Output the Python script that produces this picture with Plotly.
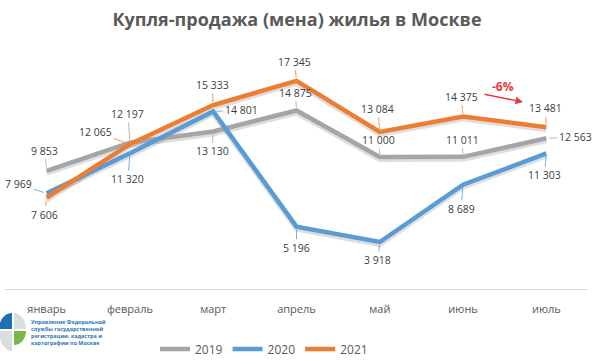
import plotly.graph_objects as go

# ---------------- data ----------------
months = ["январь", "февраль", "март", "апрель", "май", "июнь", "июль"]
series_names = ["2019", "2020", "2021"]
y2019 = [9853, 12197, 13130, 14875, 11000, 11011, 12563]
y2020 = [7969, 11320, 14801, 5196, 3918, 8689, 11303]
y2021 = [7606, 12065, 15333, 17345, 13084, 14375, 13481]
change_label = "-6%"
title_text = "Купля-продажа (мена) жилья в Москве"
logo_lines = ["Управление Федеральной", "службы государственной",
              "регистрации, кадастра и", "картографии по Москве"]

# ---------------- styles / positions ----------------
colors = ["#A5A5A5", "#5B9BD5", "#ED7D31"]
label_offsets = [
    [(-2, -20), (-2, -29), (-1, 20), (-1, -18), (-1, -17), (-1, -17), (29, -1)],
    [(-28, -9), (-2, 26), (28, -1), (0, 21), (-2, 18), (-2, 24), (-2, 22)],
    [(-2, 17), (-34, -12), (-1, -20), (-2, -19), (-2, -23), (-2, -20), (-1, -19)],
]
W, H = 594, 362
ML, MR, MT, MB = 5, 6, 49, 73
PW, PH = W - ML - MR, H - MT - MB
YMAX = 20000
shadow_shift = 2.5 * YMAX / PH

FONT = "Open Sans"


def paper(px, py):
    return ((px - ML) / PW, (H - MB - py) / PH)


def quarter(cx, cy, rx, ry, sx, sy, gap):
    k = 0.5523
    ox, oy = cx + sx * gap, cy + sy * gap
    pts = [(ox, oy), (ox + sx * rx, oy),
           (ox + sx * rx, oy + sy * ry * k), (ox + sx * rx * k, oy + sy * ry),
           (ox, oy + sy * ry)]
    p = [paper(*q) for q in pts]
    return ("M {0[0]},{0[1]} L {1[0]},{1[1]} C {2[0]},{2[1]} {3[0]},{3[1]} "
            "{4[0]},{4[1]} Z").format(*p)


fig = go.Figure()
all_series = [y2019, y2020, y2021]

# shadows (primary y axis, shifted range)
for vals in all_series:
    fig.add_trace(go.Scatter(x=months, y=vals, mode="lines", yaxis="y",
                             line=dict(color="rgba(0,0,0,0.13)", width=5),
                             showlegend=False, hoverinfo="skip"))

# main lines
for name, vals, col in zip(series_names, all_series, colors):
    fig.add_trace(go.Scatter(x=months, y=vals, mode="lines", name=name,
                             yaxis="y2", line=dict(color=col, width=4.5)))

annotations = []
for vals, col, offs in zip(all_series, colors, label_offsets):
    for m, v, (ax, ay) in zip(months, vals, offs):
        annotations.append(dict(
            x=m, y=v, xref="x", yref="y2",
            text=f"{v:,}".replace(",", " "),
            showarrow=True, arrowhead=0, arrowwidth=0.8, arrowcolor=col,
            ax=ax, ay=ay, standoff=3,
            font=dict(family=FONT, size=10.5, color="#404040")))

# -6% text and arrow
tx, ty = paper(503, 86)
annotations.append(dict(x=tx, y=ty, xref="paper", yref="paper",
                        xanchor="center", yanchor="middle",
                        text=f"<b>{change_label}</b>", showarrow=False,
                        font=dict(family=FONT, size=12, color="#E8393A")))
hx, hy = paper(523, 102)
annotations.append(dict(x=hx, y=hy, xref="paper", yref="paper", text="",
                        showarrow=True, arrowhead=2, arrowsize=1,
                        arrowwidth=1.5, arrowcolor="#E8393A", ax=-40, ay=-8))

# logo text
lx, ly = paper(29, 332)
annotations.append(dict(x=lx, y=ly, xref="paper", yref="paper",
                        xanchor="left", yanchor="middle", align="left",
                        text="<b>" + "<br>".join(logo_lines) + "</b>",
                        showarrow=False,
                        font=dict(family=FONT, size=5.4, color="#2E75B6")))

shapes = []
cx, cy = 13, 330
for (rx, ry, sx, sy, fc) in [(13, 16, -1, -1, "#1F6FB5"),
                             (12, 16, 1, -1, "#D9DEE3"),
                             (12, 14, 1, 1, "#7AB648"),
                             (13, 20, -1, 1, "#D9DEE3")]:
    shapes.append(dict(type="path", xref="paper", yref="paper",
                       path=quarter(cx, cy, rx, ry, sx, sy, 1),
                       fillcolor=fc, line=dict(width=0)))

lgx, lgy = paper(264, 349)
fig.update_layout(
    width=W, height=H,
    margin=dict(l=ML, r=MR, t=MT, b=MB, autoexpand=False),
    paper_bgcolor="white", plot_bgcolor="white",
    title=dict(text=f"<b>{title_text}</b>", x=0.5, xanchor="center",
               y=1 - 20 / H, yanchor="middle",
               font=dict(family=FONT, size=18, color="#595959")),
    xaxis=dict(type="category", range=[-0.5, 6.5], showgrid=False,
               zeroline=False, showline=True, linecolor="#D9D9D9",
               linewidth=1, ticks="outside", ticklen=10,
               tickcolor="rgba(0,0,0,0)",
               tickfont=dict(family=FONT, size=11, color="#595959")),
    yaxis=dict(range=[shadow_shift, YMAX + shadow_shift], visible=False,
               showgrid=False, zeroline=False),
    yaxis2=dict(range=[0, YMAX], overlaying="y", visible=False,
                showgrid=False, zeroline=False),
    legend=dict(orientation="h", x=lgx, xanchor="center", y=lgy,
                yanchor="middle", font=dict(family=FONT, size=12,
                                            color="#595959"),
                bgcolor="rgba(0,0,0,0)"),
    annotations=annotations,
    shapes=shapes,
    showlegend=True,
)

fig.write_html("out.html",
               config={"displayModeBar": False},
               post_script="document.body.style.margin='0px';")
